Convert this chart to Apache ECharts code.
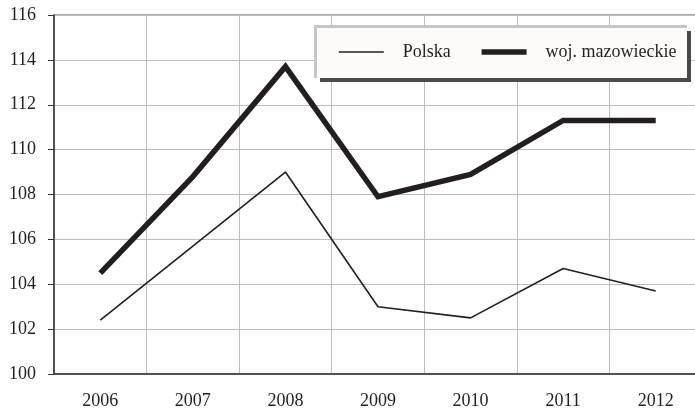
<!DOCTYPE html>
<html>
<head>
<meta charset="utf-8">
<script src="https://cdn.jsdelivr.net/npm/echarts@6/dist/echarts.min.js"></script>
<style>
  html, body { margin: 0; padding: 0; background: #fff; }
  #chart { width: 695px; height: 414px; }
</style>
</head>
<body>
<div id="chart"></div>
<script>
const years = ['2006', '2007', '2008', '2009', '2010', '2011', '2012']
const polska = [102.4, 105.7, 109.0, 103.0, 102.5, 104.7, 103.7]
const mazowieckie = [104.5, 108.8, 113.7, 107.9, 108.9, 111.3, 111.3]

const serif = '"Liberation Serif", "DejaVu Serif", serif'
const ink = '#231f20'

const chart = echarts.init(document.getElementById('chart'))

chart.setOption({
  animation: false,
  backgroundColor: '#fff',
  grid: {
    left: 54, right: -7, top: 15, bottom: 40,
    outerBoundsMode: 'none',
    show: true, borderColor: '#555', borderWidth: 1
  },
  graphic: [
    // legend shadow + box
    { type: 'rect', z: 50, shape: { x: 320, y: 31, width: 371, height: 51 }, style: { fill: '#4a4a4a' } },
    { type: 'rect', z: 51, shape: { x: 314, y: 25, width: 373, height: 53 }, style: { fill: '#fcfbf8' } },
    { type: 'polyline', z: 52, shape: { points: [[315.5, 78], [315.5, 26.5], [687, 26.5]] }, style: { stroke: '#c6c6c8', lineWidth: 3, fill: null } }
  ],
  legend: {
    z: 100,
    left: 338,
    top: 43,
    padding: 0,
    itemWidth: 45,
    itemHeight: 18,
    itemGap: 28,
    itemStyle: { opacity: 0 },
    lineStyle: { width: 'inherit' },
    textStyle: { fontFamily: serif, fontSize: 18, color: ink, padding: [0, 0, 0, 14] },
    data: ['Polska', 'woj. mazowieckie']
  },
  xAxis: {
    type: 'category',
    data: years,
    boundaryGap: true,
    axisLine: { lineStyle: { color: '#333', width: 1.5 } },
    axisTick: { show: false },
    axisLabel: { margin: 18, fontFamily: serif, fontSize: 18, color: ink },
    splitLine: { show: true, lineStyle: { color: '#bdbdbd', width: 1 } }
  },
  yAxis: {
    type: 'value',
    min: 100,
    max: 116,
    interval: 2,
    axisLine: { show: true, lineStyle: { color: '#333', width: 1.5 } },
    axisTick: { show: true, length: 6, lineStyle: { color: '#333' } },
    axisLabel: { margin: 18, fontFamily: serif, fontSize: 18, color: ink },
    splitLine: { show: true, lineStyle: { color: '#bdbdbd', width: 1 } }
  },
  series: [
    {
      name: 'Polska',
      type: 'line',
      data: polska,
      symbol: 'none',
      lineStyle: { color: ink, width: 1.6 },
      itemStyle: { color: ink }
    },
    {
      name: 'woj. mazowieckie',
      type: 'line',
      data: mazowieckie,
      symbol: 'none',
      lineStyle: { color: ink, width: 5.5, join: 'miter' },
      itemStyle: { color: ink }
    }
  ]
})
</script>
</body>
</html>
